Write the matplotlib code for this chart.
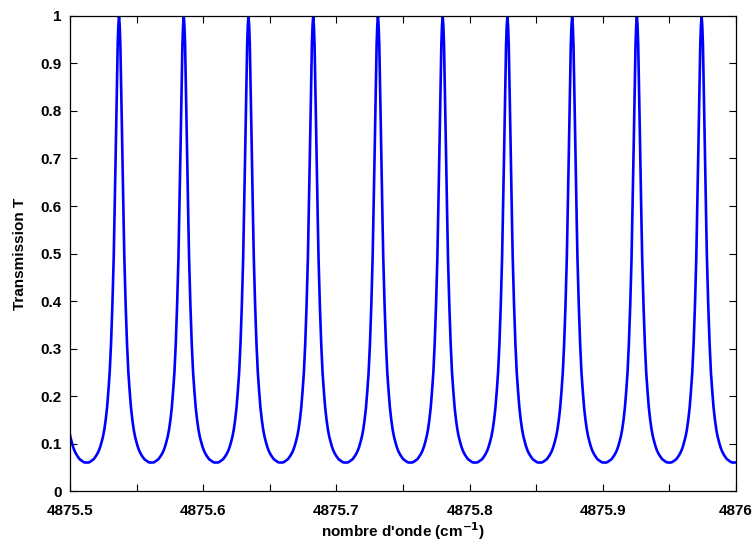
import numpy as np
import matplotlib
matplotlib.use("Agg")
import matplotlib.pyplot as plt

plt.rcParams['font.family'] = ['Liberation Sans', 'DejaVu Sans']
plt.rcParams['font.weight'] = 'bold'

# peak centres (cm^-1), incl. the ones just outside the frame
peak_centres = [4875.4882, 4875.5368, 4875.5854, 4875.6340, 4875.6826, 4875.7312,
                4875.7798, 4875.8284, 4875.8770, 4875.9256, 4875.9742, 4876.0228]

# half profile of one fringe: offset from the peak (cm^-1) and transmission
offsets = [0.0000, 0.0005, 0.0010, 0.0015, 0.0020, 0.0025, 0.0030, 0.0035, 0.0040,
           0.0050, 0.0060, 0.0070, 0.0080, 0.0090, 0.0100, 0.0110, 0.0120, 0.0130,
           0.0140, 0.0150, 0.0160, 0.0170, 0.0180, 0.0190, 0.0200, 0.0210, 0.0220,
           0.0230, 0.0243]
trans = [1.00, 0.98, 0.94, 0.87, 0.79, 0.71, 0.63, 0.56, 0.49,
         0.39, 0.31, 0.25, 0.21, 0.175, 0.15, 0.13, 0.115, 0.104,
         0.094, 0.086, 0.080, 0.075, 0.071, 0.067, 0.065, 0.063, 0.061,
         0.060, 0.060]

xtick_vals = [4875.5, 4875.55, 4875.6, 4875.65, 4875.7, 4875.75, 4875.8,
              4875.85, 4875.9, 4875.95, 4876.0]
xtick_labels = ['4875.5', '', '4875.6', '', '4875.7', '', '4875.8', '',
                '4875.9', '', '4876']
ytick_vals = [0, 0.1, 0.2, 0.3, 0.4, 0.5, 0.6, 0.7, 0.8, 0.9, 1.0]
ytick_labels = ['0', '0.1', '0.2', '0.3', '0.4', '0.5', '0.6', '0.7', '0.8', '0.9', '1']

# build the full trace: mirror the half profile around each peak
off = np.array(offsets)
tr = np.array(trans)
x_all, y_all = [], []
for c in peak_centres:
    x_all.append(np.concatenate([c - off[::-1], c + off[1:]]))
    y_all.append(np.concatenate([tr[::-1], tr[1:]]))
x_all = np.concatenate(x_all)
y_all = np.concatenate(y_all)

fig = plt.figure(figsize=(7.56, 5.44), dpi=100)
ax = fig.add_axes([0.0926, 0.0974, 0.8809, 0.8732])

ax.plot(x_all, y_all, color='#0000ff', linewidth=1.9)

ax.set_xlim(4875.5, 4876.0)
ax.set_ylim(0, 1)
ax.set_xticks(xtick_vals)
ax.set_xticklabels(xtick_labels)
ax.set_yticks(ytick_vals)
ax.set_yticklabels(ytick_labels)

ax.tick_params(direction='in', top=True, right=True, length=5, width=0.8,
               labelsize=11)
ax.tick_params(axis='x', pad=9)
ax.tick_params(axis='y', pad=6)
for s in ax.spines.values():
    s.set_linewidth(0.9)

ax.set_xlabel("nombre d'onde (cm$^{\\mathbf{-1}}$)", fontsize=11, fontweight='bold', labelpad=2)
ax.set_ylabel("Transmission T", fontsize=11, fontweight='bold', labelpad=10)

fig.savefig("out.png", dpi=100)
